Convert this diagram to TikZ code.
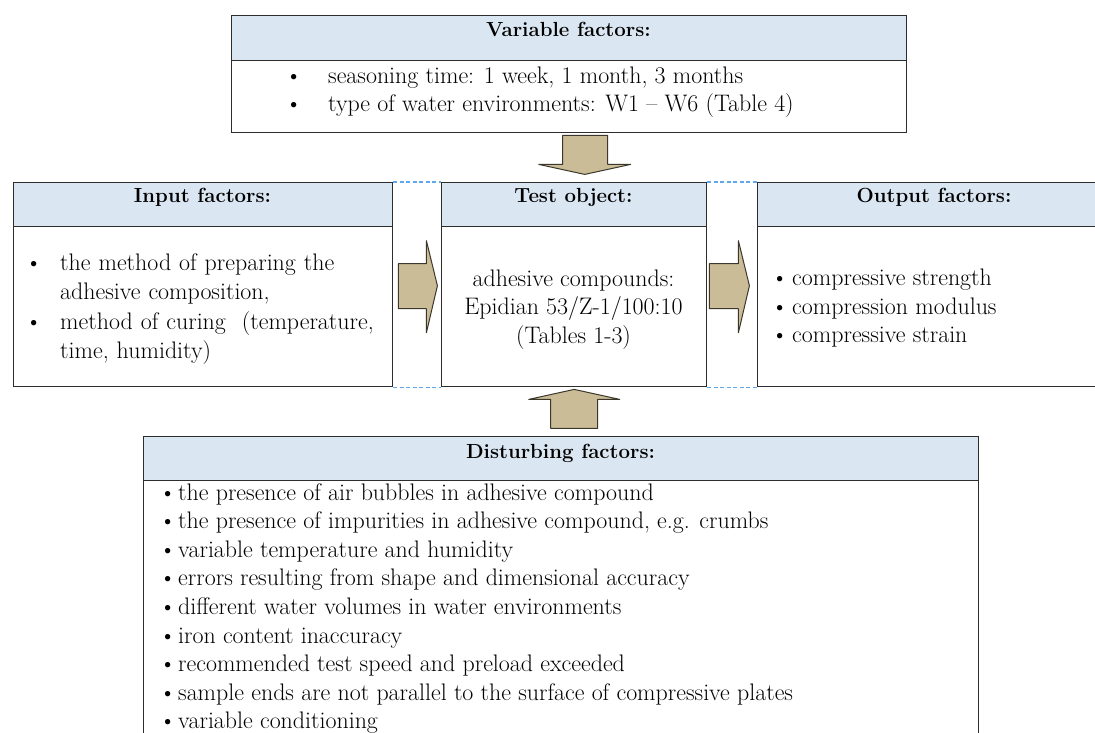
\documentclass[tikz,border=0pt]{standalone}
\usepackage{fontspec}
\usetikzlibrary{calc}
\definecolor{boxline}{RGB}{45,45,45}
\definecolor{hdrblue}{RGB}{218,230,241}
\definecolor{arrowfill}{RGB}{201,188,150}
\definecolor{arrowline}{RGB}{60,55,45}
\definecolor{gapblue}{RGB}{95,168,238}
\newcommand{\hfnt}{\fontsize{20.5}{24}\selectfont\bfseries}
\newcommand{\bfnt}{\fontsize{24}{28.7}\selectfont}
\newcommand{\bul}[1]{\makebox[#1][l]{\textbullet}}
\tikzset{
  box/.style={draw=boxline, line width=1.4bp, fill=white, inner sep=0, anchor=north west},
  hdr/.style={draw=boxline, line width=1.4bp, fill=hdrblue, inner sep=0, anchor=north west},
  htext/.style={font=\hfnt, anchor=base, inner sep=0},
  btext/.style={font=\bfnt, anchor=north west, inner sep=0, align=left},
  fatarrow/.style={draw=arrowline, fill=arrowfill, line width=1bp, line join=round},
  gapline/.style={draw=gapblue, line width=1.4bp, dash pattern=on 4bp off 2.5bp},
}
\begin{document}
\begin{tikzpicture}[x=1bp, y=-1bp]
\useasboundingbox[fill=white] (0,0) rectangle (1095,733);

% Variable factors
\node[box, minimum width=675bp, minimum height=117bp] (var) at (231,15) {};
\node[hdr, minimum width=675bp, minimum height=45bp] (varh) at (231,15) {};
\node[htext] (vart) at (568.5,37) {Variable factors:};
\node[btext] (varb) at (285,63)
  {\strut\bul{43bp}seasoning time: 1 week, 1 month, 3 months\\
   \bul{43bp}type of water environments: W1 -- W6 (Table 4)};

% Input factors
\node[box, minimum width=379bp, minimum height=204bp] (in) at (13,182) {};
\node[hdr, minimum width=379bp, minimum height=44bp] (inh) at (13,182) {};
\node[htext] (int) at (202.5,203) {Input factors:};
\node[btext, text width=360bp, font=\fontsize{24}{29.6}\selectfont] (inb) at (25,249.5)
  {\hangindent=35bp\hangafter=1\strut\bul{35bp}the method of preparing the\newline adhesive composition,\par
   \hangindent=35bp\hangafter=1\bul{35bp}method of curing\ \ (temperature,\newline time, humidity)\par};

% Test object
\node[box, minimum width=265bp, minimum height=204bp] (test) at (441,182) {};
\node[hdr, minimum width=265bp, minimum height=44bp] (testh) at (441,182) {};
\node[htext] (testt) at (573.5,203) {Test object:};
\node[font=\bfnt, anchor=north, align=center, inner sep=0] (testb) at (573.5,266)
  {\strut adhesive compounds:\\ Epidian 53/Z-1/100:10\\ (Tables 1-3)};

% Output factors
\node[box, minimum width=350bp, minimum height=204bp] (out) at (757,182) {};
\node[hdr, minimum width=350bp, minimum height=44bp] (outh) at (757,182) {};
\node[htext] (outt) at (934,203) {Output factors:};
\node[btext] (outb) at (771,265.5)
  {\strut\bul{21bp}compressive strength\\ \bul{21bp}compression modulus\\ \bul{21bp}compressive strain};

% Disturbing factors
\node[box, minimum width=835bp, minimum height=320bp] (dis) at (143,436) {};
\node[hdr, minimum width=835bp, minimum height=44bp] (dish) at (143,436) {};
\node[htext] (dist) at (560.5,458) {Disturbing factors:};
\node[btext] (disb) at (159,480)
  {\strut\bul{19bp}the presence of air bubbles in adhesive compound\\
   \bul{19bp}the presence of impurities in adhesive compound, e.g. crumbs\\
   \bul{19bp}variable temperature and humidity\\
   \bul{19bp}errors resulting from shape and dimensional accuracy\\
   \bul{19bp}different water volumes in water environments\\
   \bul{19bp}iron content inaccuracy\\
   \bul{19bp}recommended test speed and preload exceeded\\
   \bul{19bp}sample ends are not parallel to the surface of compressive plates\\
   \bul{19bp}variable conditioning};

% dashed gap lines
\draw[gapline] (in.north east) -- (test.north west);
\draw[gapline] (in.south east) -- (test.south west);
\draw[gapline] (test.north east) -- (out.north west);
\draw[gapline] (test.south east) -- (out.south west);

% block arrows
\draw[fatarrow] ($(var.south)+(-6.5,2)$) -- ++(0,29) -- ++(-24,0) -- ++(46,10) -- ++(46,-10) -- ++(-23,0) -- ++(0,-29) -- cycle;
\draw[fatarrow] ($(in.east)+(5,-21)$) -- ++(28,0) -- ++(0,-23) -- ++(11,45) -- ++(-11,47) -- ++(0,-24) -- ++(-28,0) -- cycle;
\draw[fatarrow] ($(test.east)+(2,-21)$) -- ++(29,0) -- ++(0,-23) -- ++(11,45) -- ++(-11,47) -- ++(0,-24) -- ++(-29,0) -- cycle;
\draw[fatarrow] ($(test.south)+(-23.5,41)$) -- ++(0,-29) -- ++(-22,0) -- ++(45.5,-10) -- ++(45.5,10) -- ++(-22,0) -- ++(0,29) -- cycle;
\end{tikzpicture}
\end{document}
